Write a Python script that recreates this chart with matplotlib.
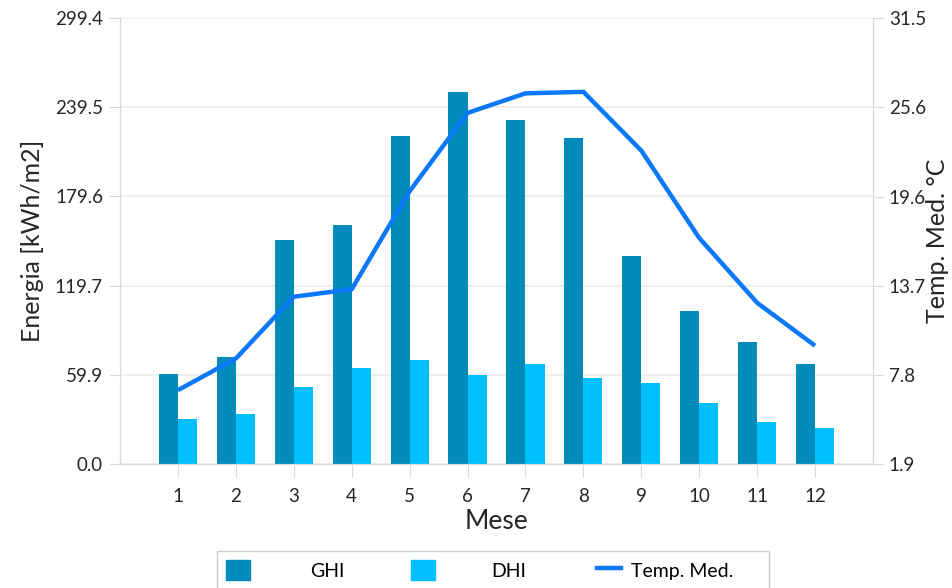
import matplotlib
matplotlib.use("Agg")
import matplotlib.pyplot as plt
import numpy as np
from matplotlib.patches import Rectangle, Patch
from matplotlib.lines import Line2D

months = [1, 2, 3, 4, 5, 6, 7, 8, 9, 10, 11, 12]
ghi = [60.4, 72.0, 150.4, 160.6, 220.4, 249.7, 230.9, 218.6, 139.8, 102.9, 81.7, 66.9]
dhi = [30.2, 33.6, 51.5, 64.4, 70.0, 60.0, 67.1, 57.5, 54.6, 40.7, 28.0, 24.0]
temp = [6.8, 8.9, 13.0, 13.5, 20.0, 25.2, 26.5, 26.6, 22.7, 16.9, 12.6, 9.75]

left_ticks = [0.0, 59.9, 119.7, 179.6, 239.5, 299.4]
left_labels = ["0.0", "59.9", "119.7", "179.6", "239.5", "299.4"]
right_ticks = [1.9, 7.8, 13.7, 19.6, 25.6, 31.5]
right_labels = ["1.9", "7.8", "13.7", "19.6", "25.6", "31.5"]

c_ghi = "#008bba"
c_dhi = "#00bfff"
c_temp = "#0a78f8"
grid_c = "#ececec"
spine_c = "#d9d9d9"
txt_c = "#262626"

plt.rcParams['font.family'] = ['Lato', 'DejaVu Sans']

fig = plt.figure(figsize=(9.53, 5.88), dpi=100)
ax = fig.add_axes([120/953, 1-464/588, (873-120)/953, (464-18)/588])
ax2 = ax.twinx()

x = np.array(months, dtype=float)
w = 0.33
ax.bar(x - w/2, ghi, width=w, color=c_ghi, zorder=2)
ax.bar(x + w/2, dhi, width=w, color=c_dhi, zorder=2)
ax2.plot(x, temp, color=c_temp, lw=3.2, solid_capstyle='butt', solid_joinstyle='miter', zorder=3)

ax.set_xlim(0, 13)
ax.set_ylim(0, 299.4)
ax2.set_ylim(1.9, 31.5)
ax.set_xticks(months)
ax.set_xticklabels([str(m) for m in months])
ax.set_yticks(left_ticks)
ax.set_yticklabels(left_labels)
ax2.set_yticks(right_ticks)
ax2.set_yticklabels(right_labels)

ax.yaxis.grid(True, color=grid_c, lw=1.2, zorder=0)
ax.set_axisbelow(True)

for a in (ax, ax2):
    for s in a.spines.values():
        s.set_color(spine_c)
    a.spines['top'].set_visible(False)
    a.tick_params(colors=txt_c, labelsize=13.5, length=7.9, width=0.8, color=spine_c)
ax.tick_params(axis='x', length=9.4, pad=8)
ax.tick_params(axis='y', pad=4.3)
ax2.tick_params(axis='y', pad=3.5)

ax.set_ylabel("Energia [kWh/m2]", fontsize=18, color=txt_c, labelpad=8)
ax2.set_ylabel("Temp. Med. °C", fontsize=18, color=txt_c, labelpad=0)
ax.set_xlabel("Mese", fontsize=19, color=txt_c, labelpad=2.5)

# legend frame
fig.patches.append(Rectangle((217/953, -0.05), (769-217)/953, 0.05 + 1 - 551/588,
                             transform=fig.transFigure, facecolor='white',
                             edgecolor='#d0d0d0', lw=1, zorder=0))
common = dict(frameon=False, fontsize=14, loc='center left', handlelength=1.25,
              handleheight=1.16, borderpad=0, borderaxespad=0)
yl = 1 - 570/588
fig.legend([Patch(color=c_ghi)], ["GHI"], bbox_to_anchor=(226/953, yl), handletextpad=3.1, **common)
fig.legend([Patch(color=c_dhi)], ["DHI"], bbox_to_anchor=(411/953, yl), handletextpad=2.9, **common)
fig.legend([Line2D([0], [0], color=c_temp, lw=3.2)], ["Temp. Med."], bbox_to_anchor=(597/953, yl),
           handletextpad=0.5, **common)

fig.savefig("out.png", dpi=100)
